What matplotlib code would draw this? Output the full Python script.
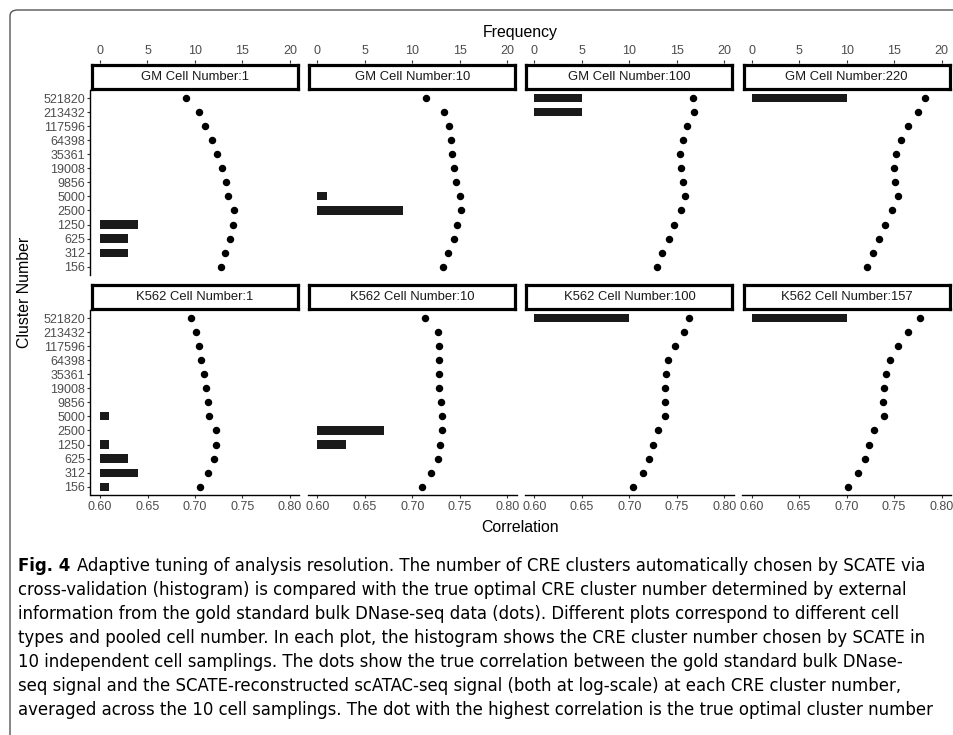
import matplotlib.pyplot as plt
from matplotlib.patches import FancyBboxPatch

clusters = ["521820", "213432", "117596", "64398", "35361", "19008", "9856",
            "5000", "2500", "1250", "625", "312", "156"]

# correlation at each cluster number (dots), top to bottom
gm_1 = [0.691, 0.704, 0.711, 0.718, 0.723, 0.728, 0.733, 0.735, 0.741, 0.740, 0.737, 0.732, 0.727]
gm_10 = [0.715, 0.734, 0.739, 0.741, 0.742, 0.744, 0.746, 0.750, 0.751, 0.747, 0.744, 0.738, 0.732]
gm_100 = [0.767, 0.768, 0.761, 0.756, 0.753, 0.754, 0.756, 0.759, 0.754, 0.747, 0.742, 0.734, 0.729]
gm_220 = [0.783, 0.775, 0.765, 0.757, 0.752, 0.750, 0.751, 0.754, 0.748, 0.740, 0.734, 0.728, 0.722]
k562_1 = [0.696, 0.701, 0.704, 0.706, 0.709, 0.712, 0.714, 0.715, 0.722, 0.722, 0.720, 0.714, 0.705]
k562_10 = [0.713, 0.727, 0.728, 0.728, 0.728, 0.728, 0.730, 0.731, 0.731, 0.729, 0.727, 0.720, 0.710]
k562_100 = [0.763, 0.757, 0.748, 0.741, 0.739, 0.737, 0.738, 0.738, 0.730, 0.725, 0.721, 0.714, 0.704]
k562_157 = [0.777, 0.765, 0.754, 0.746, 0.741, 0.739, 0.738, 0.739, 0.729, 0.724, 0.719, 0.712, 0.701]

# frequency of chosen cluster number (bars), top to bottom
gm_1_freq = [0, 0, 0, 0, 0, 0, 0, 0, 0, 4, 3, 3, 0]
gm_10_freq = [0, 0, 0, 0, 0, 0, 0, 1, 9, 0, 0, 0, 0]
gm_100_freq = [5, 5, 0, 0, 0, 0, 0, 0, 0, 0, 0, 0, 0]
gm_220_freq = [10, 0, 0, 0, 0, 0, 0, 0, 0, 0, 0, 0, 0]
k562_1_freq = [0, 0, 0, 0, 0, 0, 0, 1, 0, 1, 3, 4, 1]
k562_10_freq = [0, 0, 0, 0, 0, 0, 0, 0, 7, 3, 0, 0, 0]
k562_100_freq = [10, 0, 0, 0, 0, 0, 0, 0, 0, 0, 0, 0, 0]
k562_157_freq = [10, 0, 0, 0, 0, 0, 0, 0, 0, 0, 0, 0, 0]

titles = [["GM Cell Number:1", "GM Cell Number:10", "GM Cell Number:100", "GM Cell Number:220"],
          ["K562 Cell Number:1", "K562 Cell Number:10", "K562 Cell Number:100", "K562 Cell Number:157"]]
corrs = [[gm_1, gm_10, gm_100, gm_220], [k562_1, k562_10, k562_100, k562_157]]
freqs = [[gm_1_freq, gm_10_freq, gm_100_freq, gm_220_freq],
         [k562_1_freq, k562_10_freq, k562_100_freq, k562_157_freq]]

caption = [
    "Adaptive tuning of analysis resolution. The number of CRE clusters automatically chosen by SCATE via",
    "cross-validation (histogram) is compared with the true optimal CRE cluster number determined by external",
    "information from the gold standard bulk DNase-seq data (dots). Different plots correspond to different cell",
    "types and pooled cell number. In each plot, the histogram shows the CRE cluster number chosen by SCATE in",
    "10 independent cell samplings. The dots show the true correlation between the gold standard bulk DNase-",
    "seq signal and the SCATE-reconstructed scATAC-seq signal (both at log-scale) at each CRE cluster number,",
    "averaged across the 10 cell samplings. The dot with the highest correlation is the true optimal cluster number",
]

plt.rcParams['font.family'] = ['Liberation Sans', 'DejaVu Sans']

W, H = 954, 735
fig = plt.figure(figsize=(W / 100, H / 100), dpi=100)

# rounded frame around the figure
fig.patches.append(FancyBboxPatch((10 / W, -0.2), 1.1, 1.2 - 10 / H,
                                  boxstyle="round,pad=0,rounding_size=0.008",
                                  transform=fig.transFigure, fill=False,
                                  edgecolor="#555555", linewidth=1.0))

col_left = [90.5, 307.7, 524.9, 742.1]
pw = 209
row_top = [89.6, 309.6]
ph = 185.5
strip_h = 27.0
ypos = list(range(len(clusters) - 1, -1, -1))
grey = "#4D4D4D"
tick_fs = 9.0

for r in range(2):
    for c in range(4):
        l = col_left[c]
        t = row_top[r]
        ax = fig.add_axes([l / W, 1 - (t + ph) / H, pw / W, ph / H])
        ax2 = ax.twiny()
        ax2.barh(ypos, freqs[r][c], height=0.58, left=0, color="#1A1A1A", linewidth=0)
        ax2.set_xlim(-1, 21)
        ax.scatter(corrs[r][c], ypos, s=19, color="black", zorder=3)
        ax.set_zorder(ax2.get_zorder() + 1)
        ax.patch.set_visible(False)
        ax.set_xlim(0.59, 0.81)
        ax.set_ylim(-0.6, 12.6)
        ax2.set_ylim(-0.6, 12.6)

        for a in (ax, ax2):
            for s in a.spines.values():
                s.set_visible(False)

        ax.set_yticks(ypos)
        if c == 0:
            ax.spines['left'].set_visible(True)
            ax.spines['left'].set_linewidth(1.0)
            ax.set_yticklabels(clusters, fontsize=tick_fs, color=grey)
            ax.tick_params(axis='y', length=2.5, width=0.8, color="#333333", pad=1.5)
        else:
            ax.tick_params(axis='y', left=False, labelleft=False)

        ax.set_xticks([0.60, 0.65, 0.70, 0.75, 0.80])
        if r == 1:
            ax.spines['bottom'].set_visible(True)
            ax.spines['bottom'].set_linewidth(1.0)
            ax.set_xticklabels(["0.60", "0.65", "0.70", "0.75", "0.80"], fontsize=tick_fs, color=grey)
            ax.tick_params(axis='x', length=2.5, width=0.8, color="#333333", pad=1.5)
        else:
            ax.tick_params(axis='x', bottom=False, labelbottom=False)

        ax2.set_xticks([0, 5, 10, 15, 20])
        if r == 0:
            ax2.spines['top'].set_position(('outward', strip_h * 0.72))
            ax2.tick_params(axis='x', length=2.5, width=0.8, color="#333333",
                            labelsize=tick_fs, labelcolor=grey, pad=1.5)
        else:
            ax2.tick_params(axis='x', top=False, labeltop=False)
        ax2.tick_params(axis='y', left=False, right=False, labelleft=False, labelright=False)

        # facet strip
        sax = fig.add_axes([(l + 1.5) / W, 1 - (t - 1) / H, (pw - 3) / W, (strip_h - 3) / H])
        sax.set_xticks([])
        sax.set_yticks([])
        for s in sax.spines.values():
            s.set_linewidth(2.3)
            s.set_color("black")
        sax.text(0.5, 0.5, titles[r][c], ha="center", va="center", fontsize=9.4,
                 color="#1A1A1A", transform=sax.transAxes)

fig.text(520 / W, 1 - 33 / H, "Frequency", ha="center", va="center", fontsize=11.4)
fig.text(520 / W, 1 - 527 / H, "Correlation", ha="center", va="center", fontsize=11.4)
fig.text(25 / W, 1 - 292 / H, "Cluster Number", ha="center", va="center",
         rotation=90, fontsize=11.4)

# figure caption, font size fitted so the longest line spans the frame
cap_kw = dict(family="DejaVu Sans", stretch="condensed", ha="left", va="center")
y0 = 566
fs = 12.0
renderer = fig.canvas.get_renderer()
head = fig.text(18 / W, 1 - y0 / H, "Fig. 4", fontsize=fs, fontweight="bold", **cap_kw)
lines = [fig.text(18 / W, 1 - (y0 + 24 * i) / H, s, fontsize=fs, **cap_kw)
         for i, s in enumerate(caption)]
hw = head.get_window_extent(renderer).width
widths = [t.get_window_extent(renderer).width for t in lines]
widths[0] += hw + 8
fs = fs * 915 / max(widths)
head.set_fontsize(fs)
for t in lines:
    t.set_fontsize(fs)
hw = head.get_window_extent(renderer).width
lines[0].set_x((18 + hw + 7) / W)

plt.savefig("out.png", dpi=100)
